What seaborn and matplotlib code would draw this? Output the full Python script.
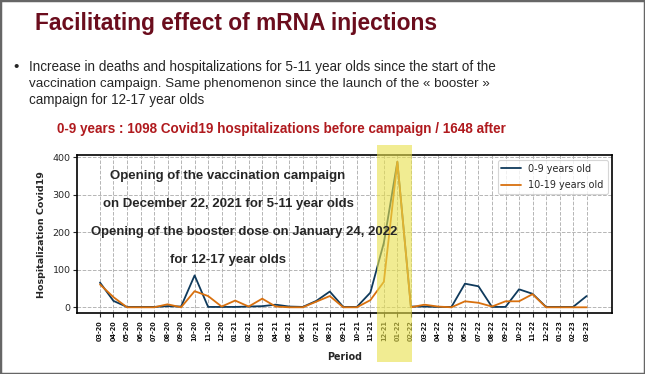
import matplotlib

matplotlib.use("Agg")

import matplotlib.pyplot as plt
from matplotlib import font_manager, transforms
from matplotlib.patches import Rectangle
import pandas as pd
import seaborn as sns

periods = [
    "03-20", "04-20", "05-20", "06-20", "07-20", "08-20", "09-20", "10-20", "11-20", "12-20",
    "01-21", "02-21", "03-21", "04-21", "05-21", "06-21", "07-21", "08-21", "09-21", "10-21",
    "11-21", "12-21", "01-22", "02-22", "03-22", "04-22", "05-22", "06-22", "07-22", "08-22",
    "09-22", "10-22", "11-22", "12-22", "01-23", "02-23", "03-23",
]
age_0_9 = [
    66, 17, 1, 1, 1, 3, 2, 85, 1, 1,
    1, 2, 3, 7, 2, 1, 17, 42, 1, 1,
    39, 172, 388, 2, 2, 1, 1, 63, 56, 1,
    1, 48, 36, 1, 1, 1, 30,
]
age_10_19 = [
    61, 27, 0, 0, 0, 8, 0, 43, 30, 2,
    18, 2, 23, 2, 0, 0, 15, 30, 0, 0,
    19, 68, 388, 0, 7, 2, 0, 16, 12, 2,
    16, 16, 35, 0, 0, 0, 0,
]
series_names = ["0-9 years old", "10-19 years old"]
y_ticks = [0, 100, 200, 300, 400]

title = "Facilitating effect of mRNA injections"
bullet_lines = [
    "Increase in deaths and hospitalizations for 5-11 year olds since the start of the",
    "vaccination campaign. Same phenomenon since the launch of the \u00ab booster \u00bb",
    "campaign for 12-17 year olds",
]
subtitle = "0-9 years : 1098 Covid19 hospitalizations before campaign / 1648 after"
notes = [
    "Opening of the vaccination campaign",
    "on December 22, 2021 for 5-11 year olds",
    "Opening of the booster dose on January 24, 2022",
    "for 12-17 year olds",
]

W, H = 645, 374

sns.set_style("ticks")
plt.rcParams["font.family"] = ["DejaVu Sans"]

installed = {f.name for f in font_manager.fontManager.ttflist}
narrow = "Liberation Sans Narrow" if "Liberation Sans Narrow" in installed else "Liberation Sans"

fig = plt.figure(figsize=(W / 100, H / 100), dpi=100)
fig.patch.set_facecolor("white")
renderer = fig.canvas.get_renderer()


def px_text(x, y, s, width, **kw):
    # place text at pixel coords and scale font so it spans `width` pixels
    t = fig.text(x / W, 1 - y / H, s, **kw)
    w = t.get_window_extent(renderer).width
    t.set_fontsize(t.get_fontsize() * width / w)
    return t


# slide header
px_text(35, 30, title, 403, family="Liberation Sans", weight="bold", color="#6b0d1d",
        fontsize=16, va="baseline")
fig.text(13 / W, 1 - 71 / H, "\u2022", family="Liberation Sans", fontsize=11, va="baseline")
px_text(29, 71, bullet_lines[0], 466, family=narrow, fontsize=11, va="baseline")
px_text(29, 87.5, bullet_lines[1], 459, family=narrow, fontsize=11, va="baseline")
px_text(29, 104, bullet_lines[2], 175, family=narrow, fontsize=11, va="baseline")
px_text(57, 133, subtitle, 451, family="Liberation Sans", weight="bold", color="#b01a1e",
        fontsize=9, va="baseline")

# chart
ax = fig.add_axes([77 / W, 1 - 313.3 / H, 535.3 / W, 158.3 / H])
df = pd.DataFrame({
    "Period": periods * 2,
    "Hospitalization Covid19": age_0_9 + age_10_19,
    "group": [series_names[0]] * len(periods) + [series_names[1]] * len(periods),
})
sns.lineplot(
    data=df, x="Period", y="Hospitalization Covid19", hue="group",
    palette=["#0f3a5c", "#d8700e"], sort=False, linewidth=1.3, ax=ax,
)

ax.set_xlim(-1.7, 37.9)
ax.set_ylim(-16, 406)
ax.set_yticks(y_ticks)
ax.set_xticks(range(len(periods)))
ax.set_xticklabels(periods, rotation=90, fontsize=4.7, weight="bold", color="#111111")
ax.tick_params(axis="y", labelsize=6.8, length=3, width=0.8, pad=1.5)
ax.tick_params(axis="x", length=3, width=0.8, pad=2)
ax.grid(True, linestyle="--", color="#b5b5b5", linewidth=0.7)
for sp in ax.spines.values():
    sp.set_color("black")
    sp.set_linewidth(1.2)

ax.set_xlabel("Period", fontsize=6.9, weight="bold")
ax.set_ylabel("Hospitalization Covid19", fontsize=6.8, weight="bold")
ax.xaxis.set_label_coords(0.5, -0.245)
ax.yaxis.set_label_coords(-0.058, 0.5)

leg = ax.legend(loc="upper right", fontsize=6.9, frameon=True, fancybox=True,
                borderaxespad=0.5, handlelength=2.0, labelspacing=0.7)
leg.get_frame().set_edgecolor("#cccccc")
leg.get_frame().set_linewidth(0.8)
for line in leg.get_lines():
    line.set_linewidth(1.3)

# campaign notes
note_pos = [(227.5, 176, 235), (228.5, 204, 251), (244, 232, 307), (228, 259.5, 116)]
for (cx, cy, w), s in zip(note_pos, notes):
    px_text(cx, cy, s, w, family="Liberation Sans", weight="bold", fontsize=9,
            ha="center", va="center")

# highlighted months
band = transforms.blended_transform_factory(ax.transData, fig.transFigure)
ax.add_patch(Rectangle((20.5, 1 - 362 / H), 2.57, 217 / H, transform=band,
                       facecolor="#e8e04a", alpha=0.6, edgecolor="none",
                       clip_on=False, zorder=6))

# slide frame
fig.add_artist(Rectangle((0, 0), 1, 1, transform=fig.transFigure, fill=False,
                         edgecolor="#666666", linewidth=2.5))

fig.savefig("out.png", dpi=100)
